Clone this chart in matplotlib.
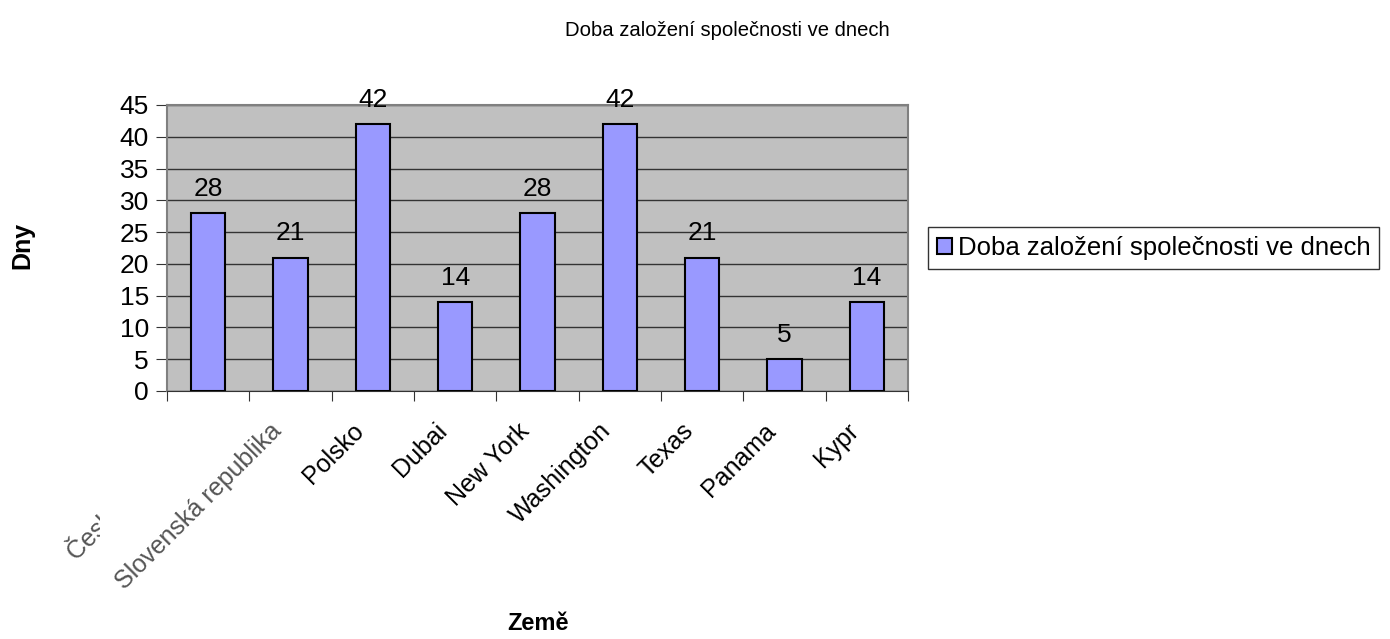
import matplotlib.pyplot as plt
from matplotlib.transforms import Bbox
import numpy as np

plt.rcParams['font.family'] = ['Liberation Sans', 'DejaVu Sans']

countries = ['Česká republika', 'Slovenská republika', 'Polsko', 'Dubai', 'New York',
             'Washington', 'Texas', 'Panama', 'Kypr']
days = [28, 21, 42, 14, 28, 42, 21, 5, 14]
series_name = 'Doba založení společnosti ve dnech'

fig = plt.figure(figsize=(13.9, 6.39), dpi=100)
ax = fig.add_axes([167 / 1390, 1 - 391 / 639, 741 / 1390, 286 / 639])

x = np.arange(len(countries))
ax.bar(x, days, width=0.42, color='#9999FF', edgecolor='black',
       linewidth=1.5, label=series_name, zorder=3)

for xi, v in zip(x, days):
    ax.annotate(str(v), xy=(xi, v), xytext=(0, 9), textcoords='offset points',
                ha='center', va='bottom', fontsize=19)

ax.set_facecolor('#C0C0C0')
ax.set_xlim(-0.5, len(countries) - 0.5)
ax.set_ylim(0, 45)
ax.set_yticks(range(0, 46, 5))
ax.yaxis.grid(True, color='#333333', linewidth=1, zorder=0)
ax.set_axisbelow(True)

ax.set_xticks(np.arange(-0.5, len(countries), 1))
ax.set_xticklabels([])
ax.tick_params(axis='x', which='major', length=7, direction='out', color='#333333')
ax.tick_params(axis='y', length=8, direction='out', labelsize=19, color='#333333', pad=5)

# category labels, rotated; the first one is cut off at the left like in the original
clip = Bbox([[0, 0], [100, 639]])
for xi, name in zip(x, countries):
    t = ax.annotate(name, xy=(xi, 0), xycoords=('data', 'axes fraction'),
                    xytext=(-15, -20), textcoords='offset points',
                    rotation=45, ha='right', va='top', rotation_mode='anchor',
                    fontsize=18, color='#555555' if xi < 2 else 'black',
                    annotation_clip=False)
    if xi == 0:
        t.set_clip_box(clip)
        t.set_clip_on(True)

for s in ['top', 'right', 'left']:
    ax.spines[s].set_color('#808080')
    ax.spines[s].set_linewidth(1.5)
ax.spines['bottom'].set_color('#333333')

fig.text(538 / 1390, 1 - 623 / 639, 'Země', ha='center', va='center',
         fontsize=17, fontweight='bold')
fig.text(22 / 1390, 1 - 245 / 639, 'Dny', ha='center', va='center',
         fontsize=18, fontweight='bold', rotation=90)

fig.text(727 / 1390, 1 - 30 / 639, series_name, ha='center', va='center', fontsize=14.6)

leg = ax.legend(loc='center left', bbox_to_anchor=(928 / 1390, 1 - 248 / 639),
                bbox_transform=fig.transFigure, fontsize=18.5, frameon=True,
                fancybox=False, handlelength=0.6, handleheight=0.6,
                handletextpad=0.2, borderpad=0.35, borderaxespad=0)
leg.get_frame().set_edgecolor('black')
leg.get_frame().set_linewidth(1)

fig.savefig('out.png', dpi=100)
